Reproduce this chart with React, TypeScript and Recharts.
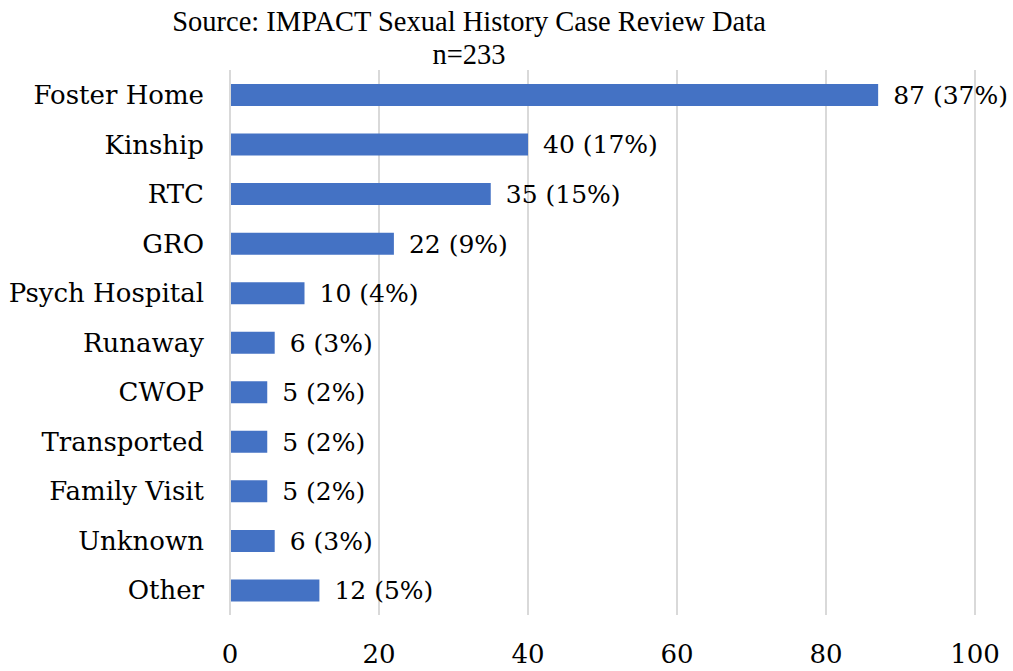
import { BarChart, Bar, XAxis, YAxis, CartesianGrid, LabelList } from "recharts";

const categories = [
  "Foster Home",
  "Kinship",
  "RTC",
  "GRO",
  "Psych Hospital",
  "Runaway",
  "CWOP",
  "Transported",
  "Family Visit",
  "Unknown",
  "Other",
];
const counts = [87, 40, 35, 22, 10, 6, 5, 5, 5, 6, 12];
const percents = [37, 17, 15, 9, 4, 3, 2, 2, 2, 3, 5];
const xTicks = [0, 20, 40, 60, 80, 100];

const data = categories.map((name, i) => ({
  name,
  count: counts[i],
  label: `${counts[i]} (${percents[i]}%)`,
}));

const narrow = "'Liberation Serif', serif";
const wide = "'DejaVu Serif', serif";

export default function App() {
  return (
    <div style={{ position: "absolute", left: 0, top: 0, width: 1013, height: 671, background: "#fff" }}>
      <div
        style={{
          position: "absolute",
          left: 0,
          width: 938,
          top: 5,
          textAlign: "center",
          fontFamily: narrow,
          fontSize: 28.5,
          lineHeight: "33px",
          color: "#000",
        }}
      >
        Source: IMPACT Sexual History Case Review Data
        <br />
        n=233
      </div>
      <BarChart
        width={1013}
        height={671}
        data={data}
        layout="vertical"
        margin={{ top: 70, right: 38, bottom: 0, left: 0 }}
        barCategoryGap={0}
      >
        <CartesianGrid horizontal={false} stroke="#d9d9d9" strokeWidth={2} />
        <XAxis
          type="number"
          domain={[0, 100]}
          ticks={xTicks}
          height={56}
          axisLine={false}
          tickLine={false}
          tickMargin={24}
          tick={{ fill: "#000", fontSize: 26, fontFamily: wide }}
        />
        <YAxis
          type="category"
          dataKey="name"
          width={230}
          axisLine={{ stroke: "#d9d9d9", strokeWidth: 2 }}
          tickLine={false}
          tickMargin={20}
          tick={{ fill: "#000", fontSize: 26, fontFamily: wide }}
        />
        <Bar dataKey="count" fill="#4472C4" barSize={22} isAnimationActive={false}>
          <LabelList
            dataKey="label"
            position="right"
            offset={15}
            fill="#000"
            fontSize={25}
            fontFamily={wide}
          />
        </Bar>
      </BarChart>
    </div>
  );
}
